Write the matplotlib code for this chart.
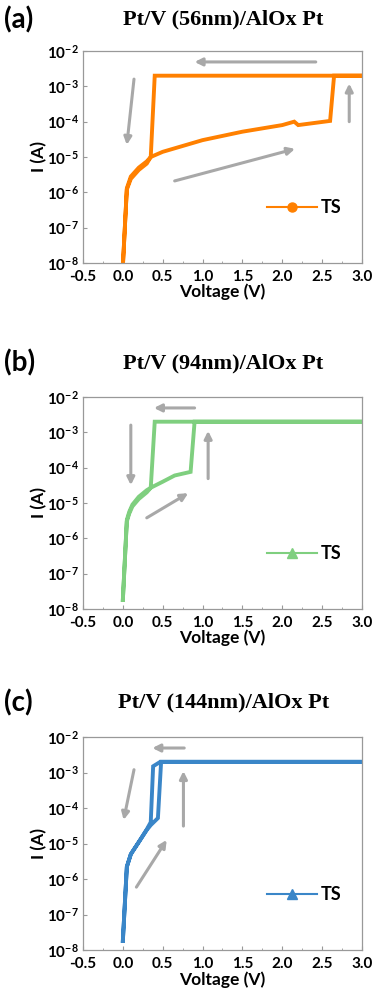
import numpy as np
import matplotlib
matplotlib.use("Agg")
from matplotlib import pyplot as plt
from matplotlib.lines import Line2D
from matplotlib.ticker import LogLocator, MultipleLocator, NullFormatter

plt.rcParams["font.family"] = ["Lato", "DejaVu Sans"]
plt.rcParams["font.weight"] = "bold"
plt.rcParams["mathtext.fontset"] = "custom"
plt.rcParams["mathtext.rm"] = "Lato:bold"
plt.rcParams["mathtext.bf"] = "Lato:bold"

# panel (a) V = 56 nm
v_a = [0.0, 0.05, 0.1, 0.2, 0.3, 0.35, 0.5, 1.0, 1.5, 2.0, 2.15, 2.2, 2.6, 2.65, 3.0,
       0.4, 0.35, 0.3, 0.2, 0.1, 0.05, 0.0]
i_a = [8e-9, 1.3e-6, 2.8e-6, 5e-6, 7.5e-6, 1e-5, 1.4e-5, 3e-5, 5.2e-5, 8e-5, 1e-4, 8e-5, 1.05e-4, 2e-3, 2e-3,
       2e-3, 1e-5, 6.5e-6, 4.3e-6, 2.4e-6, 1.2e-6, 8e-9]

# panel (b) V = 94 nm
v_b = [0.0, 0.05, 0.08, 0.12, 0.2, 0.3, 0.35, 0.5, 0.65, 0.85, 0.9, 3.0,
       0.4, 0.35, 0.3, 0.2, 0.12, 0.08, 0.05, 0.0]
i_b = [1.8e-8, 3.3e-6, 5.6e-6, 9e-6, 1.5e-5, 2.3e-5, 2.7e-5, 4e-5, 6e-5, 7.6e-5, 2e-3, 2e-3,
       2e-3, 2.7e-5, 2e-5, 1.3e-5, 8e-6, 5e-6, 3e-6, 1.8e-8]

# panel (c) V = 144 nm
v_c = [0.0, 0.05, 0.1, 0.2, 0.3, 0.35, 0.44, 0.48, 3.0,
       0.47, 0.38, 0.35, 0.3, 0.2, 0.1, 0.05, 0.0]
i_c = [1.8e-8, 2.2e-6, 5e-6, 1.1e-5, 2.4e-5, 3.3e-5, 5.2e-5, 2e-3, 2e-3,
       2e-3, 1.5e-3, 4e-5, 2.5e-5, 1.1e-5, 5e-6, 2.2e-6, 1.8e-8]

# sweep-direction arrows: (x_tail, y_tail, x_head, y_head)
arrows_a = [(2.42, 4.9e-3, 0.9, 4.9e-3), (0.14, 1.6e-3, 0.05, 2.2e-5),
            (0.65, 2.1e-6, 2.16, 1.7e-5), (2.84, 1e-4, 2.84, 1.2e-3)]
arrows_b = [(0.9, 4.9e-3, 0.39, 4.9e-3), (0.1, 1.6e-3, 0.1, 3.2e-5),
            (0.3, 3.8e-6, 0.82, 1.9e-5), (1.07, 4.9e-5, 1.07, 1.1e-3)]
arrows_c = [(0.77, 4.9e-3, 0.37, 4.9e-3), (0.14, 1.2e-3, 0.01, 4.6e-5),
            (0.17, 5.9e-7, 0.55, 1.26e-5), (0.76, 3.1e-5, 0.76, 1.1e-3)]

labels = ["(a)", "(b)", "(c)"]
titles = ["Pt/V (56nm)/AlOx Pt", "Pt/V (94nm)/AlOx Pt", "Pt/V (144nm)/AlOx Pt"]
colors = ["#FF8000", "#7FCF7F", "#3A86C8"]
markers = ["o", "^", "^"]

xticks = [-0.5, 0.0, 0.5, 1.0, 1.5, 2.0, 2.5, 3.0]
yticks = [1e-8, 1e-7, 1e-6, 1e-5, 1e-4, 1e-3, 1e-2]

fig = plt.figure(figsize=(3.75, 9.98), dpi=100)
rects = [[0.2213, 0.7365, 0.744, 0.2124],
         [0.2213, 0.3898, 0.744, 0.2124],
         [0.2213, 0.0481, 0.744, 0.2134]]
label_y = [0.98, 0.636, 0.296]

for k, (vv, ii, arr) in enumerate([(v_a, i_a, arrows_a), (v_b, i_b, arrows_b), (v_c, i_c, arrows_c)]):
    ax = fig.add_axes(rects[k])
    ax.plot(vv, ii, color=colors[k], lw=2.8, solid_joinstyle="miter", clip_on=True)
    for (x0, y0, x1, y1) in arr:
        ax.annotate("", xy=(x1, y1), xytext=(x0, y0),
                    arrowprops=dict(arrowstyle="-|>", color="#A8A8A8", lw=2.2,
                                    mutation_scale=11, shrinkA=0, shrinkB=0))
    ax.set_yscale("log")
    ax.set_xlim(-0.5, 3.0)
    ax.set_ylim(1e-8, 1e-2)
    ax.set_xticks(xticks)
    ax.set_xticklabels(["{0:.1f}".format(x) for x in xticks])
    ax.xaxis.set_minor_locator(MultipleLocator(0.25))
    ax.set_yticks(yticks)
    ax.yaxis.set_minor_locator(LogLocator(base=10, subs=np.arange(2, 10)))
    ax.yaxis.set_minor_formatter(NullFormatter())
    ax.tick_params(which="both", direction="in", color="#999999", labelsize=11)
    ax.tick_params(axis="x", pad=5)
    ax.tick_params(axis="y", pad=3)
    ax.tick_params(which="major", length=3, width=0.8)
    ax.tick_params(which="minor", length=1.8, width=0.6)
    for sp in ax.spines.values():
        sp.set_color("#999999")
        sp.set_linewidth(0.9)
    ax.set_xlabel("Voltage (V)", fontsize=12.5, fontweight="bold", labelpad=0)
    ax.set_ylabel("I (A)", fontsize=12.5, fontweight="bold", labelpad=0)
    handle = Line2D([], [], color=colors[k], lw=1.5, marker=markers[k], ms=6.5)
    ax.legend([handle], ["TS"], loc="center left", bbox_to_anchor=(0.6, 0.26),
              frameon=False, fontsize=13, handlelength=2.8, handletextpad=0.2)
    fig.text(0.01, label_y[k], labels[k], fontsize=20, fontweight="bold", va="center", ha="left")
    fig.text(0.595, label_y[k], titles[k], fontsize=16, fontweight="bold",
             family="Liberation Serif", va="center", ha="center")

fig.savefig("out.png", dpi=100)
